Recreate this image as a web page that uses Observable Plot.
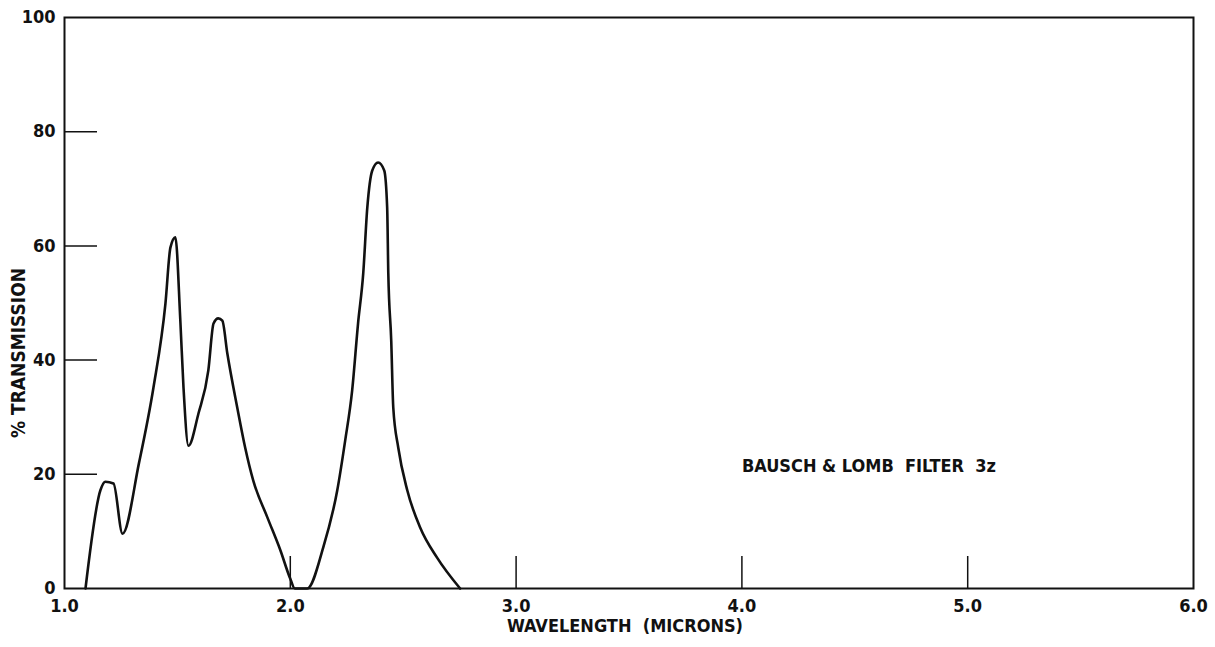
<!DOCTYPE html>
<html>
<head>
<meta charset="utf-8">
<script src="https://cdn.jsdelivr.net/npm/d3@7"></script>
<script src="https://cdn.jsdelivr.net/npm/@observablehq/plot@0.6"></script>
<style>
  html, body { margin: 0; padding: 0; background: #fff; }
  #chart { position: relative; width: 1215px; height: 647px; }
  svg { font-family: "Liberation Sans Narrow", "DejaVu Sans Condensed", "Liberation Sans", sans-serif; }
</style>
</head>
<body>
<div id="chart"></div>
<script>
const wavelength = [1.093, 1.159, 1.181, 1.217, 1.257, 1.33, 1.394, 1.447, 1.469, 1.491, 1.513, 1.527, 1.549, 1.593, 1.637, 1.66, 1.681, 1.699, 1.721, 1.765, 1.80, 1.836, 1.898, 1.956, 2.0, 2.02, 2.075, 2.146, 2.208, 2.243, 2.274, 2.30, 2.323, 2.341, 2.363, 2.389, 2.416, 2.429, 2.434, 2.447, 2.456, 2.478, 2.518, 2.575, 2.65, 2.752];
const transmission = [0, 17.2, 18.7, 18.4, 9.6, 22.0, 35.2, 49.9, 59.7, 61.5, 46.9, 35.2, 25.0, 30.6, 38.2, 46.4, 47.3, 46.9, 41.2, 31.7, 24.7, 18.9, 12.5, 6.7, 1.7, 0, 0, 7.2, 17.2, 25.9, 34.7, 46.4, 55.2, 66.7, 73.2, 74.6, 73.2, 66.7, 55.2, 43.4, 31.7, 24.7, 17.2, 10.7, 5.4, 0];
const xTickValues = [1, 2, 3, 4, 5, 6];
const xInnerTicks = [2, 3, 4, 5];
const yTickValues = [0, 20, 40, 60, 80, 100];
const yInnerTicks = [20, 40, 60, 80];
const xLabel = "WAVELENGTH  (MICRONS)";
const yLabel = "% TRANSMISSION";
const note = "BAUSCH & LOMB  FILTER  3z";
const noteX = 4.0, noteY = 21.5;

const data = wavelength.map((w, i) => ({w, t: transmission[i]}));

const chart = Plot.plot({
  width: 1215,
  height: 647,
  marginLeft: 64,
  marginRight: 22,
  marginTop: 17,
  marginBottom: 59,
  x: {domain: [1, 6]},
  y: {domain: [0, 100]},
  style: {background: "#fff", color: "#111"},
  marks: [
    Plot.frame({stroke: "#111", strokeWidth: 2}),
    Plot.axisX(xInnerTicks, {tickSize: -32, tickFormat: () => "", strokeWidth: 1.5, label: null}),
    Plot.axisX(xTickValues, {tickSize: 0, tickPadding: 11, tickFormat: d3.format(".1f"), fontSize: 18, fontWeight: "bold", label: null}),
    Plot.axisY(yInnerTicks, {tickSize: -33, tickFormat: () => "", strokeWidth: 1.5, label: null}),
    Plot.axisY(yTickValues, {tickSize: 0, tickPadding: 9, fontSize: 18, fontWeight: "bold", label: null}),
    Plot.line(data, {x: "w", y: "t", stroke: "#111", strokeWidth: 2.6, strokeLinejoin: "round", curve: "monotone-x"}),
    Plot.text([note], {x: () => noteX, y: () => noteY, text: d => d, textAnchor: "start", fontSize: 18, fontWeight: "bold", fill: "#111"}),
    Plot.text([xLabel], {frameAnchor: "bottom", text: d => d, dy: 43, dx: -4, fontSize: 18, fontWeight: "bold", fill: "#111"}),
    Plot.text([yLabel], {frameAnchor: "left", textAnchor: "middle", text: d => d, dx: -46, dy: 50, rotate: -90, fontSize: 19, fontWeight: "bold", fill: "#111"})
  ]
});
document.getElementById("chart").append(chart);
</script>
</body>
</html>
